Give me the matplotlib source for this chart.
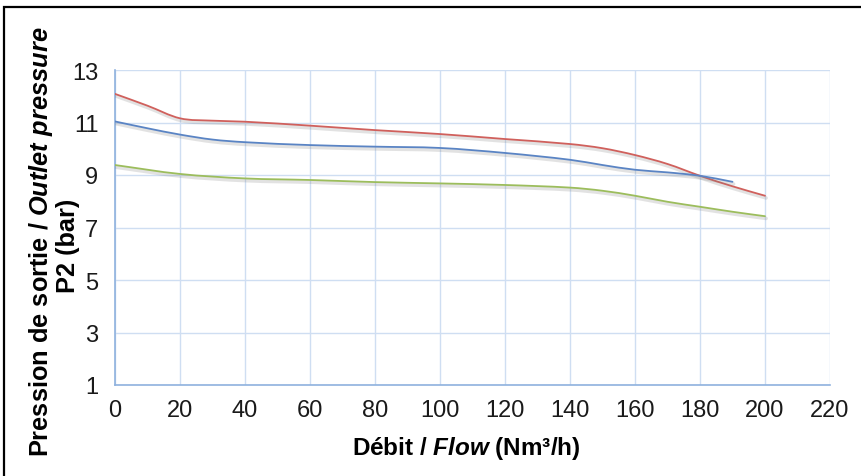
import matplotlib
matplotlib.use("Agg")
import matplotlib.pyplot as plt
import matplotlib.patheffects as pe
import numpy as np
from matplotlib.patches import PathPatch, Rectangle
from matplotlib.path import Path

# values
flow_red = [0, 10, 20, 30, 40, 60, 80, 100, 120, 140, 150, 160, 170, 180, 190, 200]
p2_red = [12.09, 11.64, 11.16, 11.07, 11.03, 10.88, 10.71, 10.56, 10.37, 10.18, 10.02, 9.76, 9.42, 8.97, 8.57, 8.21]

flow_blue = [0, 10, 20, 30, 40, 60, 80, 100, 120, 140, 150, 160, 170, 180, 190]
p2_blue = [11.04, 10.78, 10.54, 10.35, 10.25, 10.14, 10.08, 10.03, 9.84, 9.58, 9.38, 9.20, 9.10, 8.97, 8.74]

flow_green = [0, 20, 40, 60, 80, 100, 120, 140, 150, 160, 170, 180, 190, 200]
p2_green = [9.38, 9.04, 8.87, 8.81, 8.73, 8.68, 8.62, 8.52, 8.40, 8.21, 7.98, 7.79, 7.60, 7.43]

x_ticks = list(range(0, 221, 20))
y_ticks = [1, 3, 5, 7, 9, 11, 13]

plt.rcParams["font.family"] = ["Liberation Sans", "DejaVu Sans"]
plt.rcParams["mathtext.fontset"] = "custom"
plt.rcParams["mathtext.rm"] = "Liberation Sans:bold"
plt.rcParams["mathtext.bf"] = "Liberation Sans:bold"
plt.rcParams["mathtext.it"] = "Liberation Sans:italic:bold"
plt.rcParams["mathtext.bfit"] = "Liberation Sans:italic:bold"


def smooth_path(xs, ys):
    """Excel-style smoothed line: cubic Bezier through every data point."""
    pts = np.column_stack([xs, ys]).astype(float)
    ext = np.vstack([pts[0], pts, pts[-1]])
    verts = [pts[0]]
    codes = [Path.MOVETO]
    for i in range(len(pts) - 1):
        p0, p1, p2, p3 = ext[i], ext[i + 1], ext[i + 2], ext[i + 3]
        # scale tangents by local spacing so uneven steps don't overshoot
        h = p2[0] - p1[0]
        t1 = (p2 - p0) / max(p2[0] - p0[0], 1e-9) * h / 3
        t2 = (p3 - p1) / max(p3[0] - p1[0], 1e-9) * h / 3
        verts += [p1 + t1, p2 - t2, p2]
        codes += [Path.CURVE4] * 3
    return Path(verts, codes)


fig = plt.figure(figsize=(8.62, 4.77), dpi=100)
ax = fig.add_axes([115 / 862, 1 - 386 / 477, (830 - 115) / 862, (386 - 71) / 477])

shadow = [pe.SimpleLineShadow(offset=(0.8, -1.6), shadow_color="#7f7f7f", alpha=0.22, linewidth=2.6), pe.Normal()]
series = [
    (flow_red, p2_red, "#d0605c"),
    (flow_blue, p2_blue, "#5a84c4"),
    (flow_green, p2_green, "#9cbd5c"),
]
for xs, ys, col in series:
    ax.add_patch(PathPatch(smooth_path(xs, ys), fill=False, ec=col, lw=1.3,
                           capstyle="round", path_effects=shadow, zorder=3))

ax.set_xlim(0, 220)
ax.set_ylim(1, 13)
ax.set_xticks(x_ticks)
ax.set_yticks(y_ticks)
ax.grid(True, color="#cfdef2", lw=1.0)
ax.set_axisbelow(True)
ax.tick_params(length=0, labelsize=17, colors="#1a1a1a")
ax.tick_params(axis="x", pad=10)
ax.tick_params(axis="y", pad=12)
for side in ("top", "right"):
    ax.spines[side].set_visible(False)
for side in ("left", "bottom"):
    ax.spines[side].set_color("#8fb2de")
    ax.spines[side].set_linewidth(1.2)

fig.text(41 / 862, 1 - 242 / 477, "Pression de sortie / $\\mathbfit{Outlet\\ pressure}$",
         rotation=90, ha="center", va="center", fontsize=18.3, fontweight="bold")
fig.text(68 / 862, 1 - 246 / 477, "P2 (bar)",
         rotation=90, ha="center", va="center", fontsize=18.3, fontweight="bold")
fig.text(466 / 862, 1 - 448 / 477, "Débit / $\\mathbfit{Flow}$ (Nm³/h)",
         ha="center", va="center", fontsize=17.5, fontweight="bold")

# outer frame (only top and left edges fall inside the image)
fig.add_artist(Rectangle((4 / 862, -0.2), 1.5, 1.2 - 8 / 477, transform=fig.transFigure,
                         fill=False, ec="black", lw=1.6))

fig.savefig("out.png", dpi=100)
